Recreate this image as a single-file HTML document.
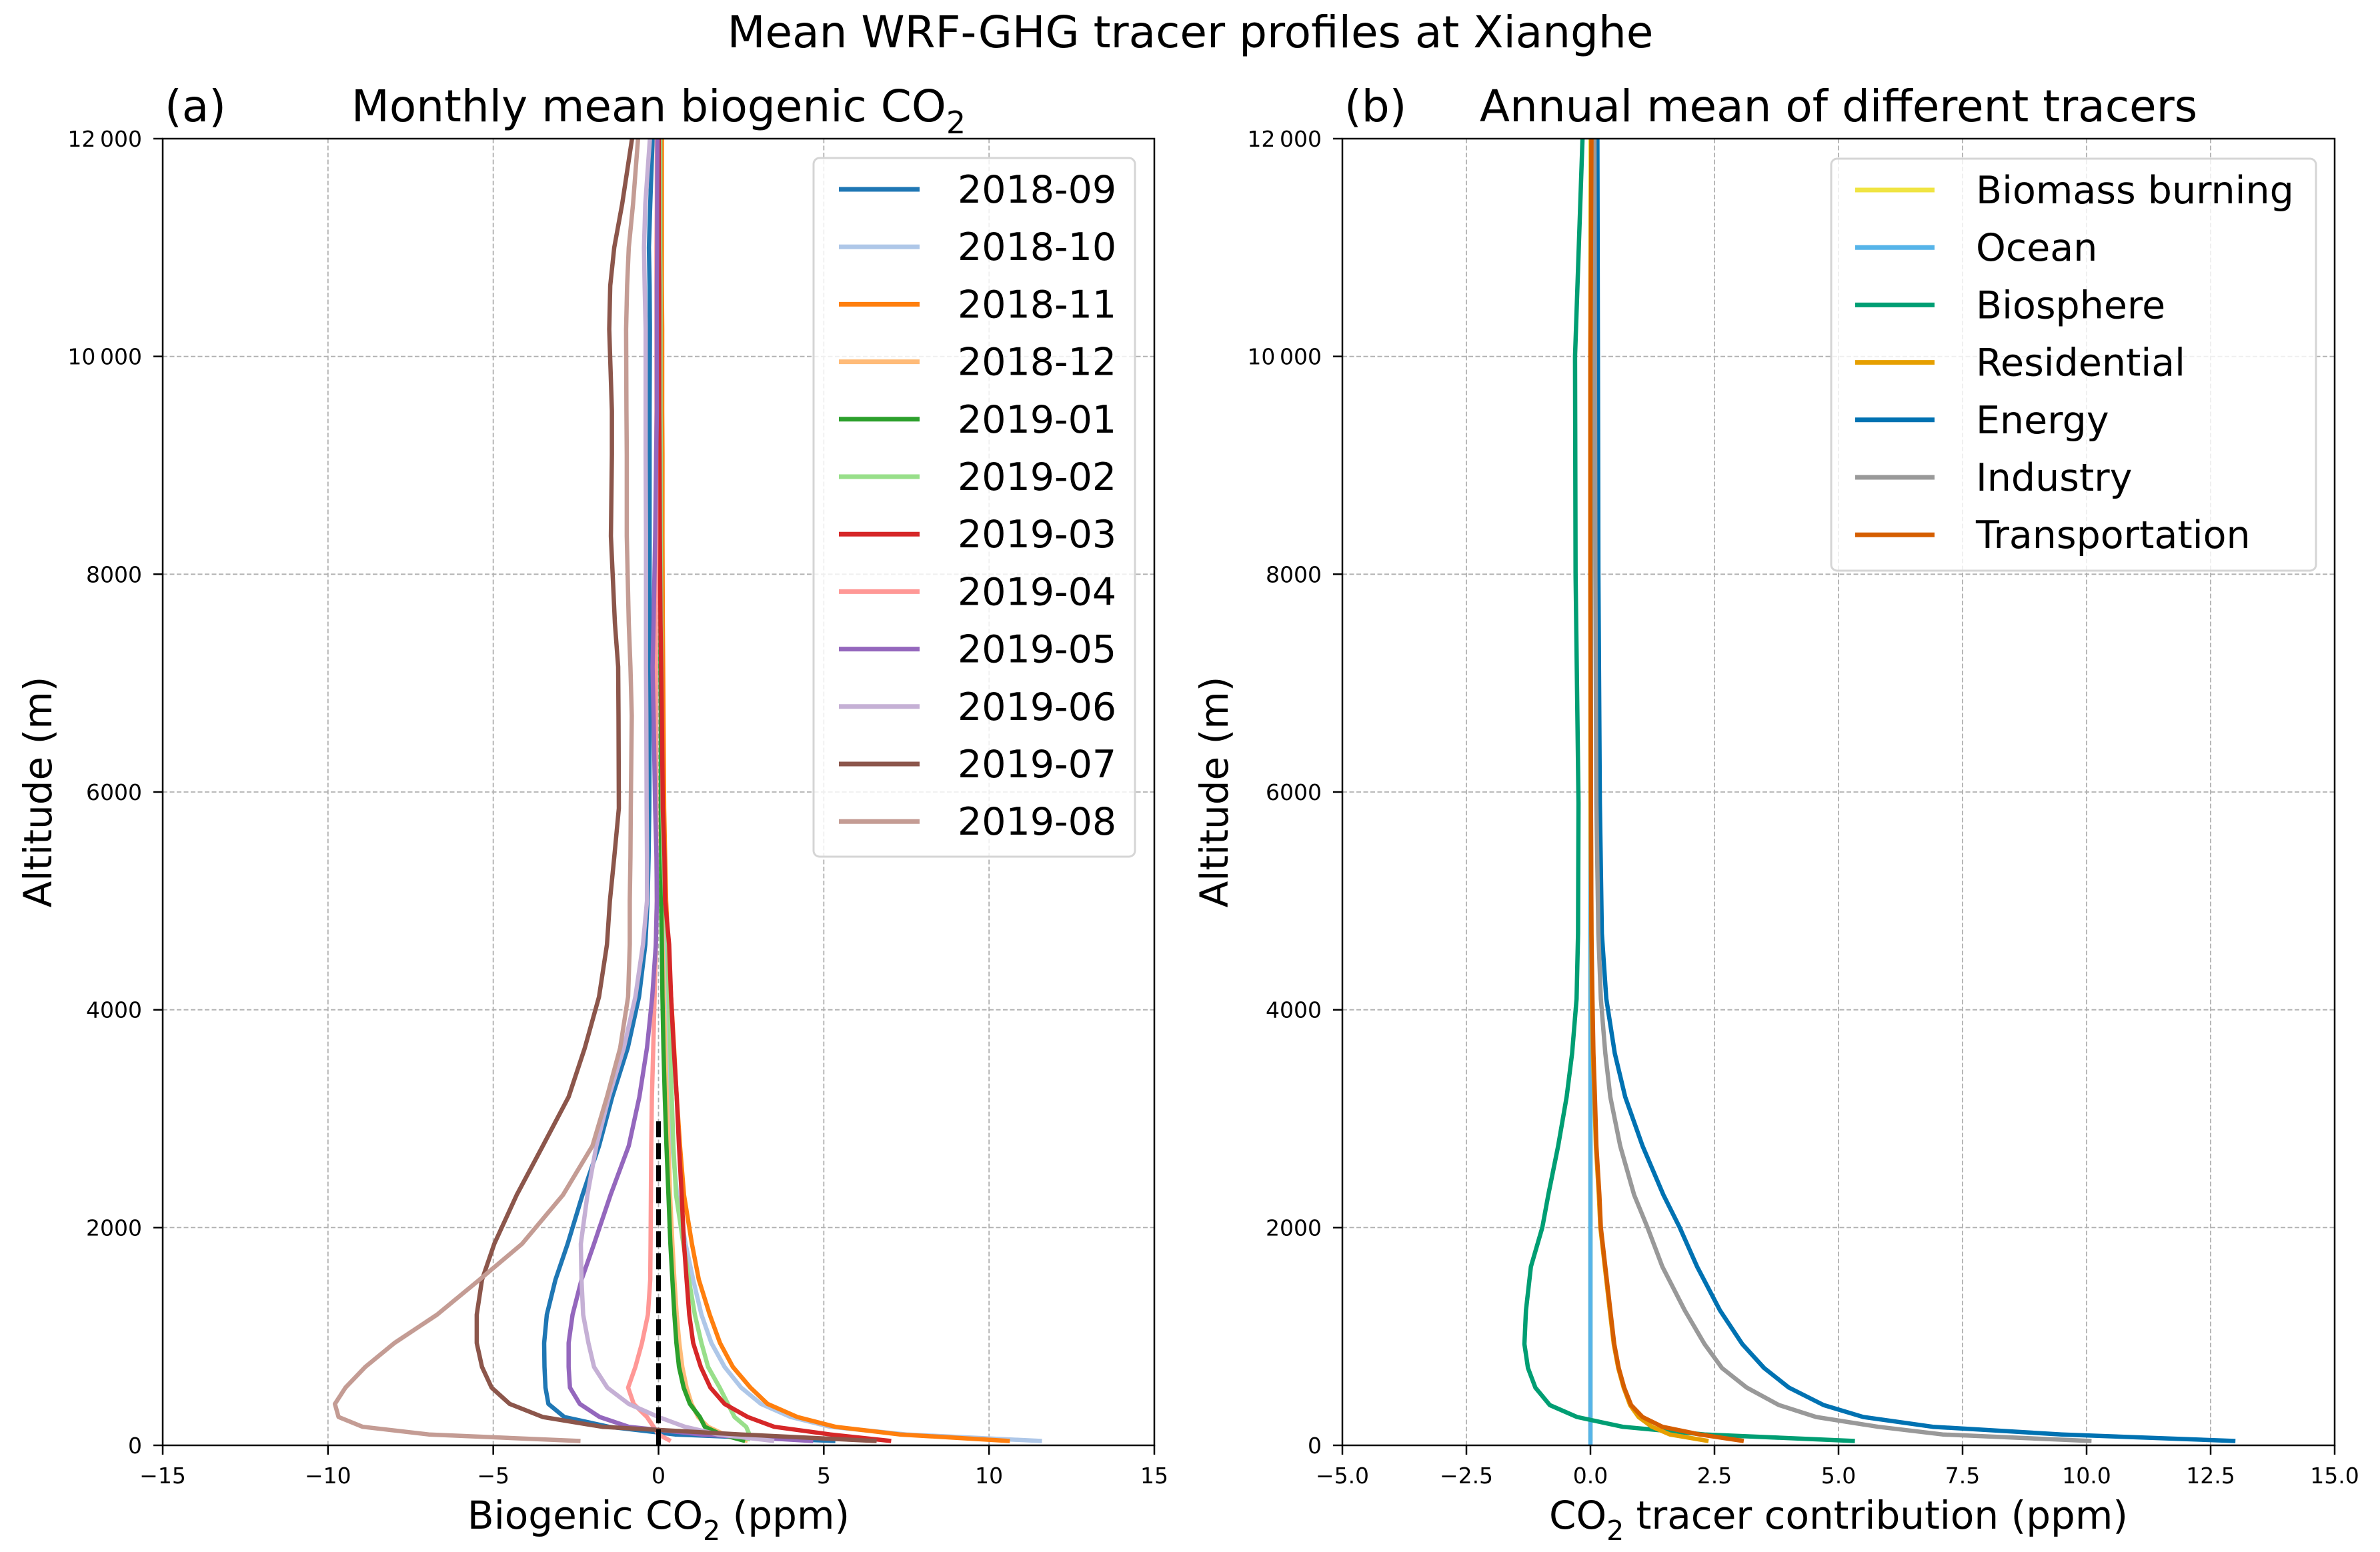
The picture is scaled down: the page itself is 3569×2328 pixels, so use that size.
<!DOCTYPE html>
<html><head><meta charset="utf-8"><style>
html,body{margin:0;padding:0;background:#fff}
svg{display:block;font-family:"DejaVu Sans","Liberation Sans",sans-serif}
</style></head><body>
<svg id="fig" width="3569" height="2328" viewBox="0 0 3569 2328" xmlns="http://www.w3.org/2000/svg">
<rect width="3569" height="2328" fill="#fff"/>
<text x="1785" y="71" font-size="66" text-anchor="middle">Mean WRF-GHG tracer profiles at Xianghe</text>
<g id="pa"></g>
<g id="pb"></g>
</svg>
<script>
// ---- Panel (a) data ----
const altA = [40,100,170,260,380,530,720,940,1200,1520,1850,2300,2750,3200,3650,4120,4600,5000,5400,5850,6700,7150,7550,8350,9100,9500,10250,10650,11000,11400,12000];
const monthLabels = ["2018-09","2018-10","2018-11","2018-12","2019-01","2019-02","2019-03","2019-04","2019-05","2019-06","2019-07","2019-08"];
const monthColors = ["#1f77b4","#aec7e8","#ff7f0e","#ffbb78","#2ca02c","#98df8a","#d62728","#ff9896","#9467bd","#c5b0d5","#8c564b","#c49c94"];
const m201809 = [5.35,0.5,-1.5,-2.85,-3.33,-3.42,-3.45,-3.46,-3.38,-3.12,-2.75,-2.3,-1.8,-1.4,-0.93,-0.59,-0.4,-0.33,-0.3,-0.28,-0.27,-0.27,-0.27,-0.27,-0.27,-0.27,-0.26,-0.27,-0.29,-0.25,-0.18];
const m201810 = [11.6,7.5,5.2,4.0,3.1,2.5,2.0,1.6,1.3,1.05,0.82,0.56,0.42,0.32,0.26,0.21,0.16,0.13,0.11,0.1,0.09,0.08,0.08,0.07,0.07,0.06,0.06,0.06,0.05,0.05,0.05];
const m201811 = [10.63,7.3,5.35,4.2,3.3,2.78,2.25,1.86,1.55,1.22,1.01,0.77,0.65,0.55,0.47,0.38,0.29,0.23,0.2,0.17,0.15,0.14,0.13,0.12,0.12,0.11,0.11,0.1,0.1,0.1,0.1];
const m201812 = [2.7,2.0,1.5,1.2,1.0,0.85,0.72,0.63,0.55,0.48,0.42,0.35,0.3,0.25,0.2,0.16,0.12,0.1,0.09,0.08,0.07,0.07,0.06,0.06,0.06,0.05,0.05,0.05,0.05,0.05,0.05];
const m201901 = [2.62,1.9,1.4,1.25,0.95,0.76,0.62,0.54,0.48,0.42,0.36,0.3,0.24,0.19,0.15,0.12,0.1,0.08,0.08,0.07,0.07,0.06,0.06,0.06,0.05,0.05,0.05,0.05,0.05,0.05,0.05];
const m201902 = [2.7,2.75,2.65,2.3,2.1,1.85,1.5,1.3,1.1,0.92,0.75,0.53,0.45,0.4,0.36,0.31,0.28,0.2,0.15,0.12,0.1,0.09,0.08,0.07,0.07,0.06,0.06,0.06,0.05,0.05,0.05];
const m201903 = [7.04,5.2,3.5,2.7,2.0,1.57,1.28,1.05,0.93,0.85,0.77,0.7,0.62,0.55,0.46,0.38,0.32,0.2,0.18,0.13,0.1,0.08,0.06,0.04,0.03,0.02,0.02,0.02,0.01,0.01,0.01];
const m201904 = [0.37,0.0,-0.15,-0.35,-0.75,-0.92,-0.7,-0.5,-0.32,-0.25,-0.24,-0.23,-0.22,-0.2,-0.16,-0.12,-0.08,-0.05,-0.06,-0.07,-0.08,-0.08,-0.08,-0.07,-0.07,-0.06,-0.06,-0.06,-0.06,-0.05,-0.05];
const m201905 = [4.68,1.3,-0.9,-1.78,-2.38,-2.68,-2.72,-2.72,-2.6,-2.33,-1.95,-1.45,-0.9,-0.58,-0.35,-0.19,-0.08,-0.05,-0.06,-0.1,-0.15,-0.18,-0.15,-0.1,-0.07,-0.05,-0.05,-0.05,-0.04,-0.04,-0.03];
const m201906 = [3.5,1.8,0.8,0.0,-0.9,-1.55,-1.95,-2.12,-2.28,-2.33,-2.35,-2.15,-1.88,-1.5,-1.05,-0.7,-0.47,-0.35,-0.35,-0.36,-0.37,-0.38,-0.38,-0.38,-0.39,-0.39,-0.39,-0.42,-0.44,-0.4,-0.26];
const m201907 = [6.6,2.5,-1.7,-3.5,-4.5,-5.05,-5.34,-5.5,-5.5,-5.34,-4.97,-4.29,-3.5,-2.72,-2.23,-1.8,-1.56,-1.47,-1.34,-1.2,-1.21,-1.22,-1.32,-1.44,-1.41,-1.41,-1.49,-1.46,-1.34,-1.1,-0.8];
const m201908 = [-2.36,-6.95,-8.95,-9.68,-9.79,-9.47,-8.87,-7.99,-6.7,-5.42,-4.13,-2.89,-2.0,-1.56,-1.16,-0.92,-0.87,-0.87,-0.85,-0.84,-0.81,-0.85,-0.9,-0.96,-0.96,-0.97,-0.98,-0.95,-0.9,-0.77,-0.62];
const monthSeries = [m201809,m201810,m201811,m201812,m201901,m201902,m201903,m201904,m201905,m201906,m201907,m201908];
const zeroLineAlt = [0,3000];
const xTicksA = [-15,-10,-5,0,5,10,15];
const yTicks = [0,2000,4000,6000,8000,10000,12000];
const yTickLabels = ["0","2000","4000","6000","8000","10\u2009000","12\u2009000"];

// ---- Panel (b) data ----
const altB = [40,100,170,260,370,530,710,930,1240,1640,2000,2300,2750,3200,3600,4100,4700,5900,8000,10000,12000];
const tracerLabels = ["Biomass burning","Ocean","Biosphere","Residential","Energy","Industry","Transportation"];
const tracerColors = ["#f0e442","#56b4e9","#009e73","#e69f00","#0072b2","#999999","#d55e00"];
const tBiomass = [0,0,0,0,0,0,0,0,0,0,0,0,0,0,0,0,0,0,0,0,0];
const tOcean = [0,0,0,0,0,0,0,0,0,0,0,0,0,0,0,0,0,0.01,0.01,0.02,0.03];
const tBiosphere = [5.33,2.3,0.65,-0.27,-0.82,-1.11,-1.26,-1.33,-1.3,-1.2,-0.97,-0.85,-0.65,-0.48,-0.37,-0.28,-0.25,-0.24,-0.3,-0.31,-0.16];
const tResidential = [2.38,1.6,1.24,0.97,0.8,0.67,0.56,0.47,0.39,0.29,0.2,0.17,0.11,0.08,0.05,0.03,0.02,0.01,0,0,0.02];
const tEnergy = [13.0,9.5,6.9,5.5,4.7,4.0,3.5,3.06,2.61,2.15,1.8,1.47,1.05,0.7,0.49,0.32,0.23,0.19,0.16,0.15,0.14];
const tIndustry = [10.1,7.1,5.8,4.55,3.8,3.15,2.65,2.3,1.9,1.45,1.15,0.88,0.6,0.4,0.3,0.21,0.16,0.12,0.1,0.09,0.08];
const tTransport = [3.09,2.2,1.45,1.05,0.82,0.68,0.57,0.48,0.4,0.3,0.21,0.18,0.12,0.09,0.06,0.04,0.02,0.01,0,0,0.02];
const tracerSeries = [tBiomass,tOcean,tBiosphere,tResidential,tEnergy,tIndustry,tTransport];
const xTicksB = [-5,-2.5,0,2.5,5,7.5,10,12.5,15];

const NS = "http://www.w3.org/2000/svg";
function mk(parent, tag, attrs, text){
  const e = document.createElementNS(NS, tag);
  for (const k in attrs) e.setAttribute(k, attrs[k]);
  if (text !== undefined) e.textContent = text;
  parent.appendChild(e);
  return e;
}
const Y0 = 2168, Y1 = 208;
function yScale(a){ return Y0 - (a/12000)*(Y0-Y1); }
function fmtMinus(s){ return String(s).replace("-", "\u2212"); }

function drawPanel(g, L, R, xmin, xmax, xTicks, xDec, letter, title, xlabelParts, ylabelX){
  const xs = v => L + (v - xmin)/(xmax - xmin)*(R - L);
  xTicks.forEach(t => {
    const gl = mk(g, "line", {x1:xs(t), x2:xs(t), y1:Y1, y2:Y0, stroke:"#b0b0b0", "stroke-width":1.8, "stroke-dasharray":"7,3.5"});
    
    
  });
  yTicks.forEach(t => {
    const gl = mk(g, "line", {x1:L, x2:R, y1:yScale(t), y2:yScale(t), stroke:"#b0b0b0", "stroke-width":1.8, "stroke-dasharray":"7,3.5"});
    
    
  });
  xTicks.forEach(t => {
    const tk = mk(g, "line", {x1:xs(t), x2:xs(t), y1:Y0, y2:Y0+14, stroke:"#000", "stroke-width":2.5});
    
    
    const lb = mk(g, "text", {x:xs(t), y:Y0+57, "font-size":33, "text-anchor":"middle"}, fmtMinus(xDec ? t.toFixed(1) : t));
    
    
  });
  yTicks.forEach((t,i) => {
    const tk = mk(g, "line", {x1:L-14, x2:L, y1:yScale(t), y2:yScale(t), stroke:"#000", "stroke-width":2.5});
    
    
    const lb = mk(g, "text", {x:L-31, y:yScale(t)+12, "font-size":33, "text-anchor":"end"}, yTickLabels[i]);
    
    
  });
  const tl = mk(g, "text", {x:L+3, y:182, "font-size":66}, letter);
  
  
  const tt = mk(g, "text", {x:(L+R)/2, y:182, "font-size":66, "text-anchor":"middle"});
  
  
  title.forEach(p => { mk(tt, "tspan", p.sub ? {"font-size":46, dy:18} : (p.after ? {dy:-18} : {}), p.t); });
  const xl = mk(g, "text", {x:(L+R)/2, y:2293, "font-size":58, "text-anchor":"middle"});
  
  
  xlabelParts.forEach(p => { mk(xl, "tspan", p.sub ? {"font-size":41, dy:17} : (p.after ? {dy:-17} : {}), p.t); });
  const yl = mk(g, "text", {x:ylabelX, y:(Y0+Y1)/2, "font-size":58, "text-anchor":"middle", transform:`rotate(-90 ${ylabelX} ${(Y0+Y1)/2})`, dy:20}, "Altitude (m)");
  
  
  return xs;
}
function lineFor(g, xs, vals, alts, color, name){
  const d = vals.map((v,i) => (i?"L":"M") + xs(v).toFixed(1) + "," + yScale(alts[i]).toFixed(1)).join(" ");
  const p = mk(g, "path", {d:d, fill:"none", stroke:color, "stroke-width":6.5, "stroke-linejoin":"round", "stroke-linecap":"butt"});
  
  
}
function spines(g, L, R){
  const r = mk(g, "rect", {x:L, y:Y1, width:R-L, height:Y0-Y1, fill:"none", stroke:"#000", "stroke-width":2.5});
  
  
}
function legend(g, x0, y0, w, h, labels, colors, hx1, hx2, tx, rowY){
  const lg = mk(g, "g", {});
  
  
  mk(lg, "rect", {x:x0, y:y0, width:w, height:h, rx:9, fill:"#fff", "fill-opacity":0.8, stroke:"#d5d5d5", "stroke-width":3});
  labels.forEach((lab,i) => {
    const y = rowY + i*86.2;
    const ent = mk(lg, "g", {});
    
    
    mk(ent, "line", {x1:hx1, x2:hx2, y1:y, y2:y, stroke:colors[i], "stroke-width":7});
    mk(ent, "text", {x:tx, y:y+20, "font-size":57}, lab);
  });
}

const ga = document.getElementById("pa");
const xsA = drawPanel(ga, 244, 1731, -15, 15, xTicksA, false, "(a)",
  [{t:"Monthly mean biogenic CO"},{t:"2",sub:true}], [{t:"Biogenic CO"},{t:"2",sub:true},{t:" (ppm)",after:true}], 57);
monthSeries.forEach((s,i) => lineFor(ga, xsA, s, altA, monthColors[i], "line-" + monthLabels[i]));
{
  const z = mk(ga, "line", {x1:xsA(0), x2:xsA(0), y1:yScale(zeroLineAlt[0]), y2:yScale(zeroLineAlt[1]), stroke:"#000", "stroke-width":7, "stroke-dasharray":"24,9"});
  
  
}
spines(ga, 244, 1731);
legend(ga, 1220, 237, 482, 1048, monthLabels, monthColors, 1258, 1379, 1436, 284);

const gb = document.getElementById("pb");
const xsB = drawPanel(gb, 2013, 3501, -5, 15, xTicksB, true, "(b)",
  [{t:"Annual mean of different tracers"}], [{t:"CO"},{t:"2",sub:true},{t:" tracer contribution (ppm)",after:true}], 1821);
tracerSeries.forEach((s,i) => {
  const alts = (i === 1) ? altB.map((a,k) => k === 0 ? 0 : a) : altB;
  lineFor(gb, xsB, s, alts, tracerColors[i], "line-" + tracerLabels[i].toLowerCase().replace(/ /g,"-"));
});
spines(gb, 2013, 3501);
legend(gb, 2746, 238, 727, 618, tracerLabels, tracerColors, 2782, 2901, 2963, 285);
</script>
</body></html>
